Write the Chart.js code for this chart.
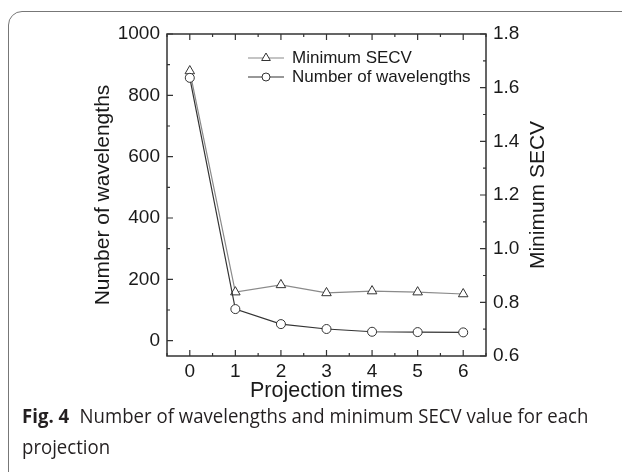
<!DOCTYPE html>
<html>
<head>
<meta charset="utf-8">
<script src="https://cdn.jsdelivr.net/npm/chart.js@4"></script>
<style>
  body { margin: 0; background: #fff; width: 622px; height: 472px; overflow: hidden; position: relative; }
  #frame { position: absolute; left: 8px; top: 11px; width: 660px; height: 520px; border: 1px solid #777; border-radius: 14px; }
  #myChart { position: absolute; left: 0; top: 0; }
  #caption { position: absolute; left: 22px; top: 400px; width: 640px; font-family: 'Open Sans', sans-serif; font-size: 20px; line-height: 31px; color: #231f20; transform: scaleX(0.93); transform-origin: left top; }
  #caption b { font-weight: 700; margin-right: 6px; }
</style>
</head>
<body>
<div id="frame"></div>
<canvas id="myChart" width="622" height="472"></canvas>
<div id="caption"><b>Fig. 4</b> Number of wavelengths and minimum SECV value for each<br>projection</div>
<script>
const projections = [0, 1, 2, 3, 4, 5, 6];
const wavelengths = [857, 103, 54, 38, 29, 28, 27];
const minSECV = [1.662, 0.838, 0.865, 0.835, 0.842, 0.838, 0.831];

const xTicks = [0, 1, 2, 3, 4, 5, 6];
const leftTicks = [0, 200, 400, 600, 800, 1000];
const rightTicks = [0.6, 0.8, 1.0, 1.2, 1.4, 1.6, 1.8];

Chart.defaults.font.family = "'Liberation Sans', Arial, sans-serif";
Chart.defaults.color = '#1a1a1a';

// box round the plot with inward ticks on all sides
const framePlugin = {
    id: 'frame',
    afterDatasetsDraw(chart) {
        const {ctx, chartArea: a, scales} = chart;
        ctx.save();
        ctx.strokeStyle = '#333';
        ctx.lineWidth = 1.5;
        ctx.strokeRect(a.left, a.top, a.right - a.left, a.bottom - a.top);
        ctx.lineWidth = 1.2;
        ctx.beginPath();
        for (let v = -0.5; v <= 6.5; v += 0.5) {
            const px = scales.x.getPixelForValue(v);
            const len = Number.isInteger(v) ? 6 : 3;
            ctx.moveTo(px, a.bottom); ctx.lineTo(px, a.bottom - len);
            ctx.moveTo(px, a.top); ctx.lineTo(px, a.top + len);
        }
        for (let v = 0; v <= 1000; v += 100) {
            const py = scales.y.getPixelForValue(v);
            const len = v % 200 === 0 ? 6 : 3;
            ctx.moveTo(a.left, py); ctx.lineTo(a.left + len, py);
        }
        for (let i = 0; i <= 12; i++) {
            const py = scales.y1.getPixelForValue(0.6 + i * 0.1);
            const len = i % 2 === 0 ? 6 : 3;
            ctx.moveTo(a.right, py); ctx.lineTo(a.right - len, py);
        }
        ctx.stroke();

        // right axis title reads bottom to top
        ctx.font = "21px 'Liberation Sans', Arial, sans-serif";
        ctx.fillStyle = '#1a1a1a';
        ctx.textAlign = 'center';
        ctx.textBaseline = 'middle';
        ctx.translate(a.right + 52, (a.top + a.bottom) / 2);
        ctx.rotate(-Math.PI / 2);
        ctx.fillText('Minimum SECV', 0, 0);
        ctx.restore();
    }
};

// legend in the upper right of the plot
const legendPlugin = {
    id: 'innerLegend',
    afterDraw(chart) {
        const {ctx, chartArea: a} = chart;
        const x0 = a.left + 81, x1 = a.left + 117, tx = a.left + 125;
        const rows = [chart.data.datasets[0], chart.data.datasets[1]];
        ctx.save();
        ctx.font = "17px 'Liberation Sans', Arial, sans-serif";
        ctx.textBaseline = 'middle';
        rows.forEach((ds, i) => {
            const y = a.top + 24 + i * 19;
            const cx = (x0 + x1) / 2;
            ctx.strokeStyle = ds.borderColor;
            ctx.lineWidth = ds.borderWidth;
            ctx.beginPath(); ctx.moveTo(x0, y); ctx.lineTo(x1, y); ctx.stroke();
            ctx.fillStyle = '#fff';
            ctx.strokeStyle = ds.pointBorderColor;
            ctx.lineWidth = 1;
            ctx.beginPath();
            if (ds.pointStyle === 'circle') {
                ctx.arc(cx, y, 4, 0, Math.PI * 2);
            } else {
                const r = 5;
                ctx.moveTo(cx, y - r); ctx.lineTo(cx + r * 0.87, y + r * 0.5); ctx.lineTo(cx - r * 0.87, y + r * 0.5); ctx.closePath();
            }
            ctx.fill(); ctx.stroke();
            ctx.fillStyle = '#1a1a1a';
            ctx.fillText(ds.label, tx, y);
        });
        ctx.restore();
    }
};

let myChart = document.getElementById('myChart').getContext('2d');

let projChart = new Chart(myChart, {
    type: 'line',
    data: {
        datasets: [{
            label: 'Minimum SECV',
            data: projections.map((p, i) => ({x: p, y: minSECV[i]})),
            yAxisID: 'y1',
            borderColor: '#8a8a8a',
            borderWidth: 1.2,
            pointStyle: 'triangle',
            pointRadius: 5.5,
            pointBorderColor: '#333',
            pointBackgroundColor: '#fff',
            pointBorderWidth: 1,
            order: 2
        }, {
            label: 'Number of wavelengths',
            data: projections.map((p, i) => ({x: p, y: wavelengths[i]})),
            yAxisID: 'y',
            borderColor: '#333',
            borderWidth: 1.2,
            pointStyle: 'circle',
            pointRadius: 4.5,
            pointBorderColor: '#333',
            pointBackgroundColor: '#fff',
            pointBorderWidth: 1,
            order: 1
        }]
    },
    options: {
        responsive: false,
        animation: false,
        devicePixelRatio: 1,
        layout: { padding: { left: 91, right: 71, top: 34, bottom: 68 } },
        plugins: { legend: { display: false }, tooltip: { enabled: false } },
        scales: {
            x: {
                type: 'linear', min: -0.5, max: 6.5,
                afterBuildTicks: s => { s.ticks = xTicks.map(v => ({value: v})); },
                afterFit: s => { s.height = 48; },
                grid: { display: false, drawTicks: false }, border: { display: false },
                ticks: { font: { size: 19 }, padding: 4 },
                title: { display: true, text: 'Projection times', font: { size: 21.5 }, padding: 0 }
            },
            y: {
                position: 'left', min: -50, max: 1000,
                afterBuildTicks: s => { s.ticks = leftTicks.map(v => ({value: v})); },
                afterFit: s => { s.width = 76; },
                grid: { display: false, drawTicks: false }, border: { display: false },
                ticks: { font: { size: 19 }, padding: 7, callback: v => String(v) },
                title: { display: true, text: 'Number of wavelengths', font: { size: 21 }, padding: 0 }
            },
            y1: {
                position: 'right', min: 0.6, max: 1.8,
                afterBuildTicks: s => { s.ticks = rightTicks.map(v => ({value: v})); },
                afterFit: s => { s.width = 65; },
                grid: { display: false, drawTicks: false }, border: { display: false },
                ticks: { font: { size: 19 }, padding: 7, callback: v => v.toFixed(1) }
            }
        }
    },
    plugins: [framePlugin, legendPlugin]
});
</script>
</body>
</html>
